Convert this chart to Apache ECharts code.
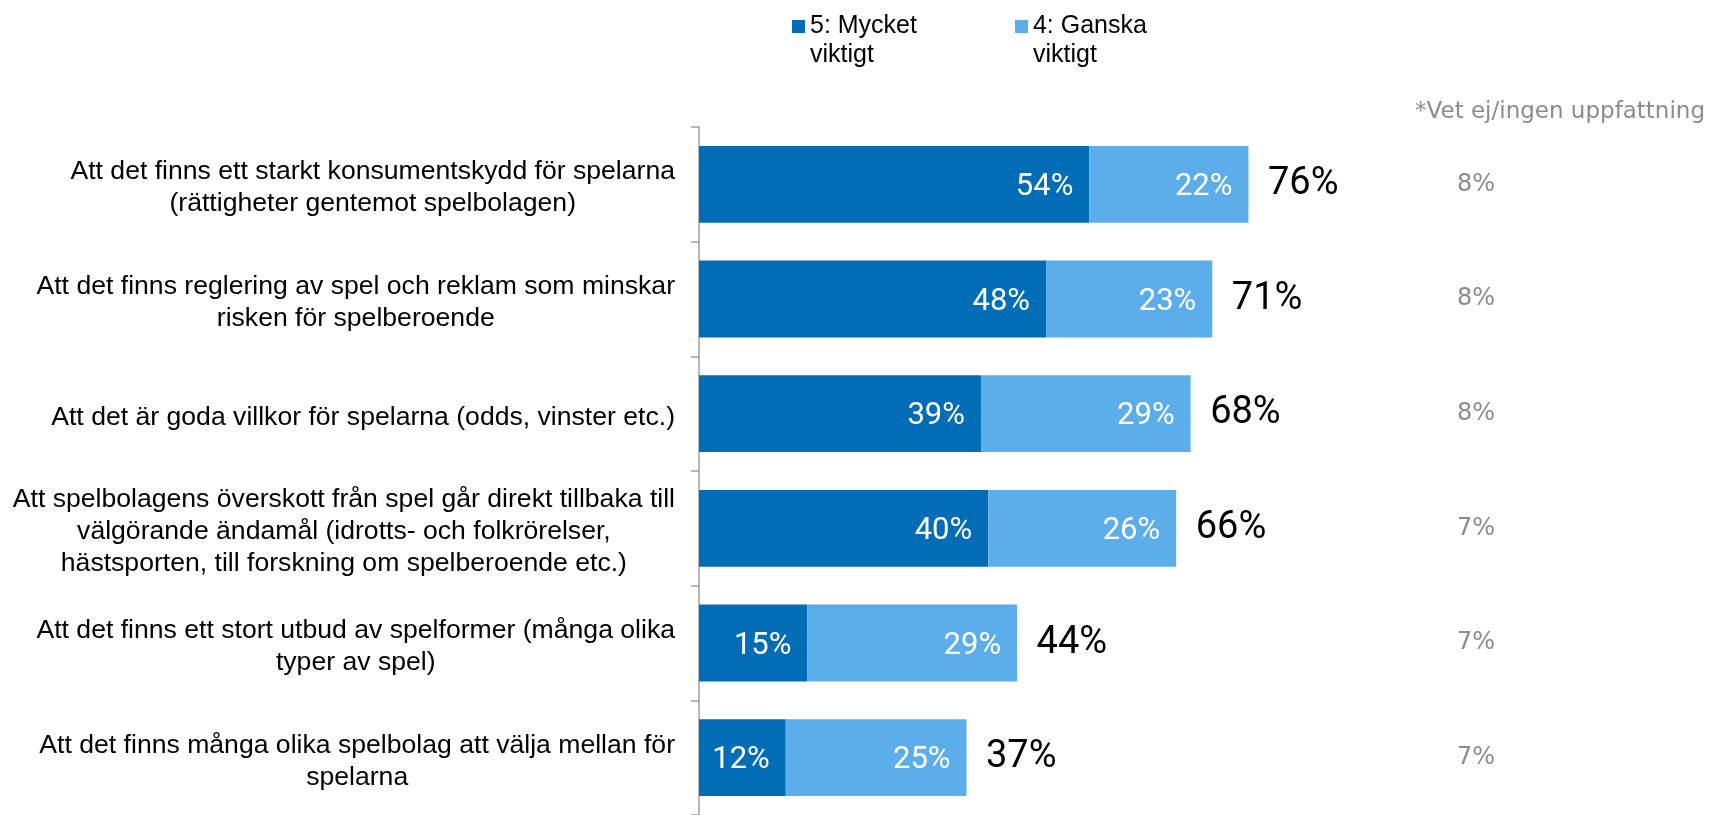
<!DOCTYPE html>
<html>
<head>
<meta charset="utf-8">
<script src="https://cdn.jsdelivr.net/npm/echarts@6/dist/echarts.min.js"></script>
<style>
  html, body { margin: 0; padding: 0; background: #fff; }
  #chart { width: 1711px; height: 815px; }
</style>
</head>
<body>
<div id="chart"></div>
<script>
// Data
const categories = [
  'Att det finns ett starkt konsumentskydd för spelarna\n(rättigheter gentemot spelbolagen)',
  'Att det finns reglering av spel och reklam som minskar\nrisken för spelberoende',
  'Att det är goda villkor för spelarna (odds, vinster etc.)',
  'Att spelbolagens överskott från spel går direkt tillbaka till\nvälgörande ändamål (idrotts- och folkrörelser,\nhästsporten, till forskning om spelberoende etc.)',
  'Att det finns ett stort utbud av spelformer (många olika\ntyper av spel)',
  'Att det finns många olika spelbolag att välja mellan för\nspelarna'
];
const mycket = [54, 48, 39, 40, 15, 12];
const ganska = [22, 23, 29, 26, 29, 25];
const totals = [76, 71, 68, 66, 44, 37];
const vetEj = [8, 8, 8, 7, 7, 7];

const seriesNames = ['5: Mycket\nviktigt', '4: Ganska\nviktigt'];
const dkTitle = '*Vet ej/ingen uppfattning';

const chart = echarts.init(document.getElementById('chart'));

const numFont = 'Roboto';
const greyFont = 'DejaVu Sans';
const textFont = 'Liberation Sans';

var option = {
  backgroundColor: '#ffffff',
  animation: false,
  title: {
    text: dkTitle,
    right: 1,
    top: 96,
    textStyle: {
      color: '#8c8c8c',
      fontSize: 23,
      fontWeight: 'normal',
      fontFamily: greyFont
    }
  },
  legend: {
    data: seriesNames,
    left: 792,
    top: -17,
    padding: 0,
    itemWidth: 13,
    itemHeight: 13,
    itemGap: 98,
    icon: 'rect',
    // empty first line so that the first real line sits next to the icon
    formatter: name => ' \n' + name,
    textStyle: {
      color: '#000',
      fontSize: 25,
      fontFamily: textFont,
      lineHeight: 29
    }
  },
  grid: {
    left: 699,
    top: 127,
    right: 289,
    bottom: -3
  },
  xAxis: {
    type: 'value',
    min: 0,
    max: 100,
    show: false
  },
  yAxis: [{
    type: 'category',
    data: categories,
    inverse: true,
    axisLine: { lineStyle: { color: '#a0a0a0', width: 1.5 } },
    axisTick: { show: true, length: 8, lineStyle: { color: '#a0a0a0', width: 1.5 } },
    axisLabel: {
      margin: 24,
      color: '#000',
      fontSize: 26.6,
      fontFamily: textFont,
      lineHeight: 32,
      padding: [7, 0, 0, 0],
      formatter: function (v) {
        // center the lines inside a right-aligned block
        return v.split('\n').map(s => '{c|' + s + '}').join('\n');
      },
      rich: {
        c: {
          align: 'center',
          color: '#000',
          fontSize: 26.6,
          fontFamily: textFont,
          lineHeight: 32
        }
      }
    }
  }, {
    type: 'category',
    data: vetEj.map(v => v + '%'),
    inverse: true,
    position: 'right',
    axisLine: { show: false },
    axisTick: { show: false },
    axisLabel: {
      margin: 54,
      align: 'center',
      color: '#8c8c8c',
      fontSize: 24,
      fontFamily: greyFont,
      padding: [0, 0, 10, 0]
    }
  }],
  series: [{
    name: seriesNames[0],
    type: 'bar',
    stack: 'total',
    data: mycket,
    barCategoryGap: '33%',
    itemStyle: { color: '#006db6' },
    label: {
      show: true,
      position: 'insideRight',
      distance: 16,
      offset: [0, 3],
      color: '#fff',
      fontSize: 31,
      fontFamily: numFont,
      formatter: '{c}%'
    }
  }, {
    name: seriesNames[1],
    type: 'bar',
    stack: 'total',
    data: ganska,
    itemStyle: { color: '#5caeeb' },
    label: {
      show: true,
      position: 'insideRight',
      distance: 16,
      offset: [0, 3],
      color: '#fff',
      fontSize: 31,
      fontFamily: numFont,
      formatter: '{c}%'
    }
  }, {
    // invisible points at each bar's end, only carrying the total label
    type: 'scatter',
    symbolSize: 1,
    itemStyle: { color: 'rgba(0,0,0,0)', opacity: 1 },
    data: totals.map((t, i) => [t, i]),
    silent: true,
    label: {
      show: true,
      position: 'right',
      distance: 19,
      color: '#000',
      fontSize: 38,
      fontFamily: numFont,
      formatter: p => p.value[0] + '%'
    }
  }]
};

chart.setOption(option);
</script>
</body>
</html>
